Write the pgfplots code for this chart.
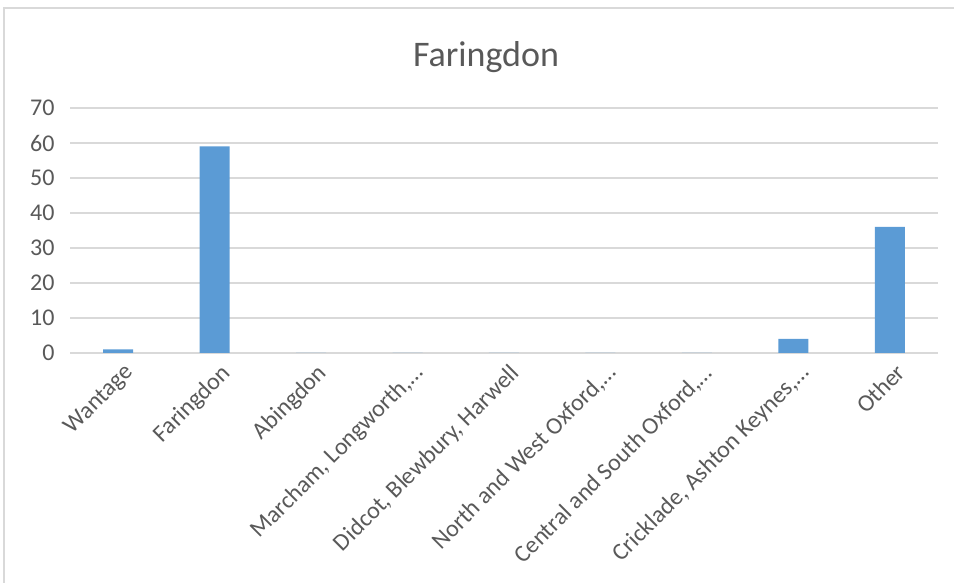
\documentclass[border=0pt]{standalone}
\usepackage{pgfplots}
\pgfplotsset{compat=1.18}
\usepackage{fontspec}
\setmainfont{Carlito}
\definecolor{barblue}{HTML}{5B9BD5}
\definecolor{txt}{HTML}{595959}
\definecolor{gridgray}{HTML}{D9D9D9}
\begin{document}
\begin{tikzpicture}[x=1pt,y=1pt]
\path[use as bounding box] (0,0) rectangle (954,583);
\draw[gridgray, line width=1.5pt] (4,0) -- (4,575) -- (954,575);
\node[txt, font=\fontsize{36}{42}\selectfont] at (486,526) {Faringdon};
\begin{axis}[
  at={(70pt,230pt)}, anchor=south west,
  scale only axis, width=868pt, height=245pt,
  ymin=0, ymax=70, ytick={0,10,...,70},
  xmin=-0.5, xmax=8.5, xtick={0,...,8},
  xticklabels={Wantage,Faringdon,Abingdon,{Marcham, Longworth,…},{Didcot, Blewbury, Harwell},{North and West Oxford,…},{Central and South Oxford,…},{Cricklade, Ashton Keynes,…},Other},
  x tick label style={rotate=45, anchor=north east, font=\fontsize{24}{28}\selectfont, text=txt, inner sep=2pt, yshift=-8pt, xshift=-1pt},
  y tick label style={font=\fontsize{24}{28}\selectfont, text=txt, xshift=-12pt},
  /pgf/number format/assume math mode=true,
  axis line style={draw=none},
  major tick length=0pt,
  xmajorgrids=false, ymajorgrids=true, grid style={draw=gridgray, line width=1.2pt},
  ybar, bar width=30pt,
]
\addplot[fill=barblue, draw=none] coordinates {(0,1) (1,59) (2,0) (3,0) (4,0) (5,0) (6,0) (7,4) (8,36)};
\end{axis}
\end{tikzpicture}
\end{document}
